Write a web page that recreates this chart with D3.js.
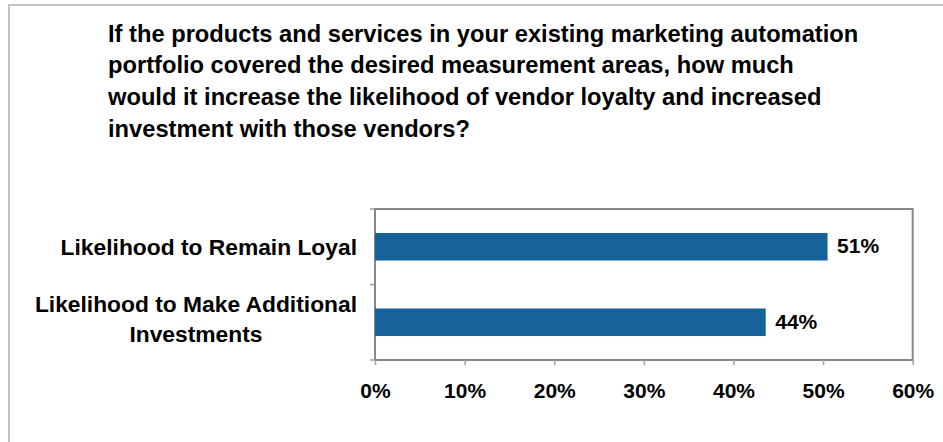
<!DOCTYPE html>
<html>
<head>
<meta charset="utf-8">
<script src="https://cdn.jsdelivr.net/npm/d3@7"></script>
<style>
  html, body { margin: 0; padding: 0; background: #fff; }
  svg { display: block; }
  text { font-family: "Liberation Sans", Arial, sans-serif; font-weight: bold; fill: #000; }
</style>
</head>
<body>
<svg id="chart" width="943" height="442"></svg>
<script>
// Survey question shown as the chart heading, one entry per line
const titleLines = [
  "If the products and services in your existing marketing automation",
  "portfolio covered the desired measurement areas, how much",
  "would it increase the likelihood of vendor loyalty and increased",
  "investment with those vendors?"
];

// Category labels (each entry is a list of wrapped lines)
const categories = ["Likelihood to Remain Loyal", "Likelihood to Make Additional Investments"];
const categoryLines = [
  ["Likelihood to Remain Loyal"],
  ["Likelihood to Make Additional", "Investments"]
];

// Share of respondents for each category
const values = [0.505, 0.436];

// Value-axis ticks
const xTicks = [0, 0.1, 0.2, 0.3, 0.4, 0.5, 0.6];

const svg = d3.select("#chart");
const W = 943, H = 442;
const plot = { left: 375, right: 912.7, top: 209, bottom: 360 };

// Outer frame
svg.append("rect")
  .attr("x", 9).attr("y", 5)
  .attr("width", W + 20).attr("height", H + 20)
  .attr("fill", "#fff")
  .attr("stroke", "#c0c0c0")
  .attr("stroke-width", 2);

// Heading
const title = svg.append("text")
  .attr("x", 108)
  .attr("y", 41.7)
  .style("font-size", "23.7px");
title.selectAll("tspan")
  .data(titleLines)
  .join("tspan")
  .attr("x", 108)
  .attr("dy", (d, i) => i === 0 ? 0 : 31.67)
  .text(d => d);

const x = d3.scaleLinear().domain([0, 0.6]).range([plot.left, plot.right]);
const y = d3.scaleBand()
  .domain(categories)
  .range([plot.top, plot.bottom])
  .paddingInner(0.635)
  .paddingOuter(0.3175);

const pct = d3.format(".0%");

// Plot area border
svg.append("rect")
  .attr("x", plot.left).attr("y", plot.top)
  .attr("width", plot.right - plot.left)
  .attr("height", plot.bottom - plot.top)
  .attr("fill", "none")
  .attr("stroke", "#878787")
  .attr("stroke-width", 2);

// Bars
svg.append("g")
  .selectAll("rect")
  .data(categories)
  .join("rect")
  .attr("x", x(0))
  .attr("y", d => y(d))
  .attr("width", (d, i) => x(values[i]) - x(0))
  .attr("height", y.bandwidth())
  .attr("fill", "#166299");

// Value labels
svg.append("g")
  .selectAll("text")
  .data(categories)
  .join("text")
  .attr("x", (d, i) => x(values[i]) + 9.5)
  .attr("y", d => y(d) + y.bandwidth() / 2 + 6.3)
  .style("font-size", "21px")
  .text((d, i) => pct(values[i]));

// X axis
const xAxis = svg.append("g")
  .attr("transform", `translate(0,${plot.bottom})`)
  .call(d3.axisBottom(x).tickValues(xTicks).tickFormat(pct).tickSize(5).tickPadding(18));
xAxis.select(".domain").remove();
xAxis.selectAll(".tick line").attr("stroke", "#a0a0a0").attr("stroke-width", 1.5);
xAxis.selectAll(".tick text")
  .style("font-size", "21px")
  .style("font-family", "'Liberation Sans', Arial, sans-serif")
  .style("font-weight", "bold")
  .attr("fill", "#000");

// Category axis: tick marks on band boundaries
const boundaries = [plot.top, ...categories.map(c => y(c) - y.step() * y.paddingInner() / 2 + y.step())];
svg.append("g")
  .selectAll("line")
  .data(boundaries)
  .join("line")
  .attr("x1", plot.left - 5).attr("x2", plot.left)
  .attr("y1", d => d).attr("y2", d => d)
  .attr("stroke", "#a0a0a0")
  .attr("stroke-width", 1.5);

// Category labels, centred within a block right-aligned to the axis
const labelRight = 357;
const lineGap = 30;
const catG = svg.append("g");
categories.forEach((c, i) => {
  const lines = categoryLines[i];
  const t = catG.append("text")
    .style("font-size", "22.8px")
    .attr("text-anchor", "middle");
  const cy = y(c) + y.bandwidth() / 2;
  const firstBaseline = cy + 8 - (lines.length - 1) * lineGap / 2 - (lines.length > 1 ? 3 : 0);
  t.selectAll("tspan")
    .data(lines)
    .join("tspan")
    .attr("y", (d, j) => firstBaseline + j * lineGap)
    .text(d => d);
  // centre every line on the widest one
  const widths = [];
  t.selectAll("tspan").each(function () { widths.push(this.getComputedTextLength()); });
  const maxW = d3.max(widths);
  t.selectAll("tspan").attr("x", labelRight - maxW / 2);
});
</script>
</body>
</html>
